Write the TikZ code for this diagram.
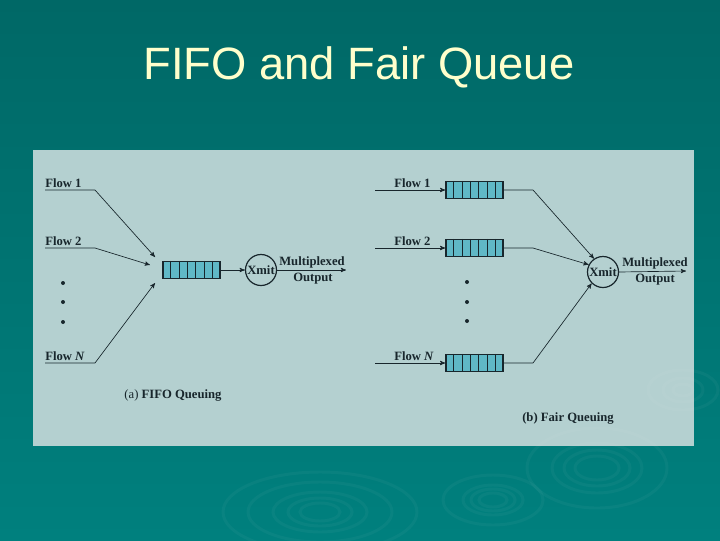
\documentclass[tikz,border=0pt]{standalone}
\usepackage{fontspec}
\setmainfont{Liberation Serif}
\newfontfamily\titlefont{Liberation Sans}
\usetikzlibrary{calc}
\usetikzlibrary{arrows}

\definecolor{tealtop}{RGB}{0,104,102}
\definecolor{tealbot}{RGB}{0,128,126}
\definecolor{panel}{RGB}{180,208,208}
\definecolor{qfill}{RGB}{96,184,198}
\definecolor{ink}{RGB}{24,38,44}
\definecolor{titlecol}{RGB}{255,255,204}

\tikzset{
  txt/.style={font=\fontsize{9.5}{11}\selectfont\bfseries, text=ink, inner sep=0},
  flowtxt/.style={txt, anchor=west},
  outtxt/.style={txt, anchor=base},
  queue/.style={draw=ink, fill=qfill, line width=1.1pt, minimum width=42.75pt,
    minimum height=12.75pt, inner sep=0},
  xmit/.style={txt, circle, draw=ink, line width=0.9pt, minimum size=23.25pt},
  wire/.style={draw=ink, line width=0.5pt, >=stealth'},
  ripple/.style={draw=white, opacity=0.035, line width=2.2pt}
}

\begin{document}
\begin{tikzpicture}[x=0.75pt, y=-0.75pt]
\useasboundingbox (0,0) rectangle (720,540);
% slide background
\fill[top color=tealtop, bottom color=tealbot] (0,0) rectangle (720,540);
\node[text=titlecol, font=\titlefont\fontsize{34}{40}\selectfont] (title) at (359,67) {FIFO and Fair Queue};
\fill[panel] (33,150) rectangle (694,446);
\foreach \rx/\ry in {20/9, 32/14, 47/20, 72/30, 97/40}
  \draw[ripple] (320,512) ellipse ({\rx} and {\ry});
\foreach \rx/\ry in {14/7, 22/11, 30/15, 50/25}
  \draw[ripple] (493,500) ellipse ({\rx} and {\ry});
\foreach \rx/\ry in {22/12, 33/18, 45/25, 70/40}
  \draw[ripple] (597,468) ellipse ({\rx} and {\ry});
\foreach \rx/\ry in {10/6, 20/12, 35/20}
  \draw[ripple] (683,390) ellipse ({\rx} and {\ry});

% (a) FIFO queuing
\node[queue] (q) at (191.5,270) {};
\foreach \k in {1,...,6}
  \draw[ink, line width=0.6pt] ($(q.north west)!\k/7!(q.north east)$) -- ($(q.south west)!\k/7!(q.south east)$);
\node[xmit] (xl) at (261,270) {Xmit};
\coordinate (ol) at (346,270);
\node[outtxt] (mxl) at (312,265) {Multiplexed};
\node[outtxt] (otl) at (313,281) {Output};
\draw[wire,->] (q.east) -- (xl.west);
\draw[wire,->] (xl.east) -- (ol);

\foreach \n/\y/\tx/\ty/\lab in {1/190/155/257/{Flow 1}, 2/248/150/265/{Flow 2}, 3/363/155/283/{Flow \textit{N}}} {
  \node[flowtxt] (fa\n) at (45,\y-7) {\lab};
  \coordinate (sa\n) at (45,\y);
  \coordinate (ka\n) at (95,\y);
  \coordinate (ta\n) at (\tx,\ty);
  \draw[wire,->] (sa\n) -- (ka\n) -- (ta\n);
}
\foreach \y in {283,302,322}
  \fill[ink] (63,\y) circle (2);
\node[txt] (capa) at (173,395) {\mdseries(a) \bfseries FIFO Queuing};

% (b) fair queuing
\node[xmit] (xr) at (603,272) {Xmit};
\coordinate (or) at (686,271);
\node[outtxt] (mxr) at (655,266) {Multiplexed};
\node[outtxt] (otr) at (655,282) {Output};
\draw[wire,->] (xr.east) -- (or);

\foreach \n/\y/\ang/\lab in {1/190/124/{Flow 1}, 2/248/153/{Flow 2}, 3/363/225/{Flow \textit{N}}} {
  \node[flowtxt] (fb\n) at (394,\y-7) {\lab};
  \coordinate (sb\n) at (375,\y);
  \node[queue] (qb\n) at (474.5,\y) {};
  \foreach \k in {1,...,6}
    \draw[ink, line width=0.6pt] ($(qb\n.north west)!\k/7!(qb\n.north east)$) -- ($(qb\n.south west)!\k/7!(qb\n.south east)$);
  \coordinate (kb\n) at (533,\y);
  \draw[wire,->] (sb\n) -- (qb\n.west);
  \draw[wire,->] (qb\n.east) -- (kb\n) -- (xr.\ang);
}
\foreach \y in {282,302,321}
  \fill[ink] (467,\y) circle (2);
\node[txt] (capb) at (568,418) {(b) Fair Queuing};
\end{tikzpicture}
\end{document}
